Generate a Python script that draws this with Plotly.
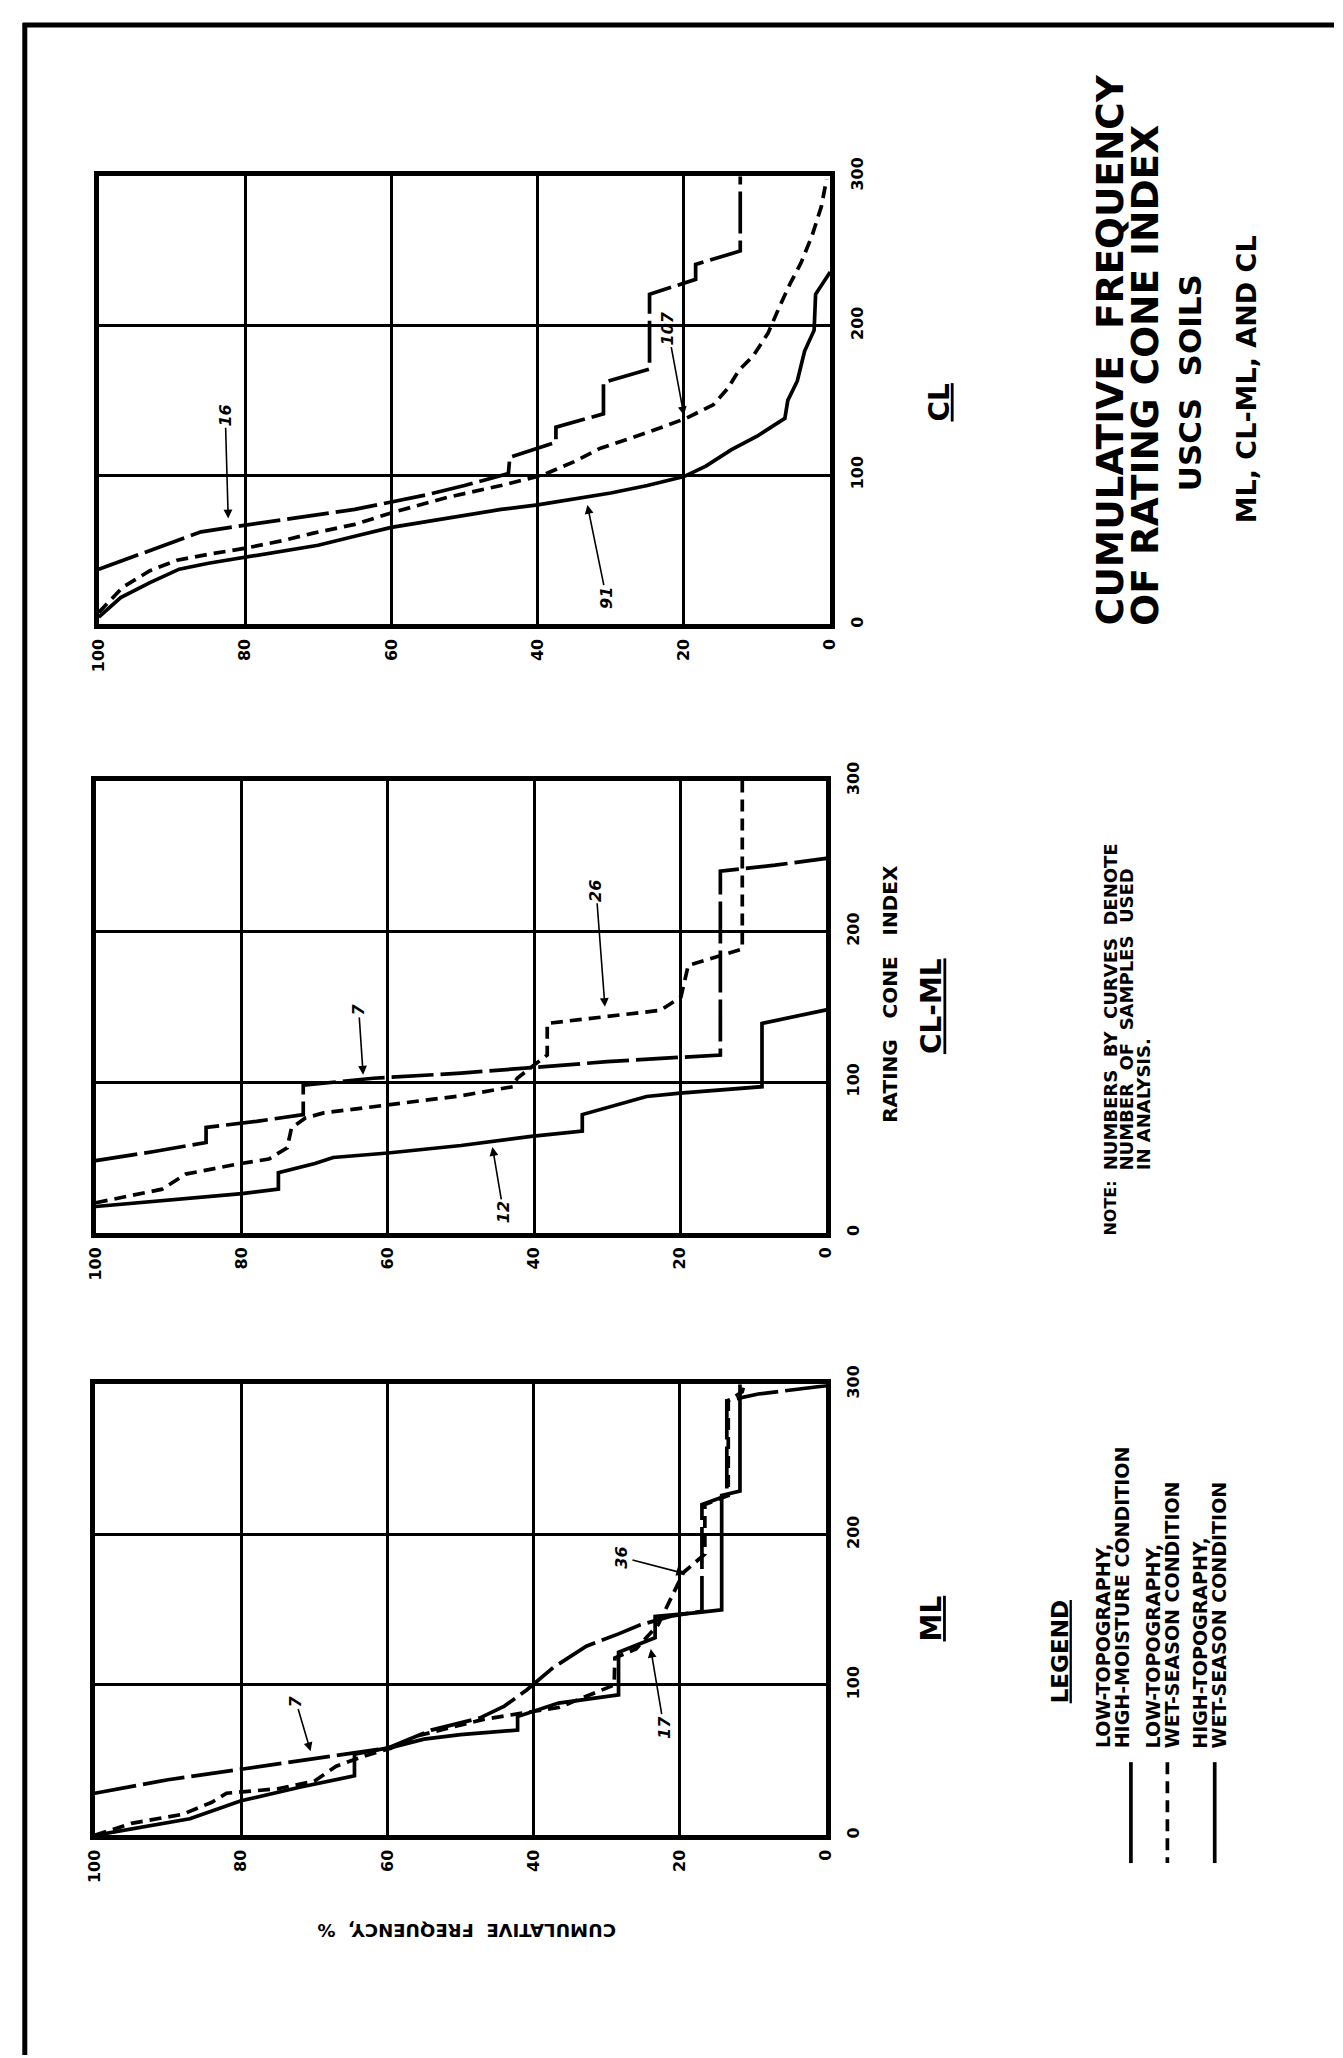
import plotly.graph_objects as go

W, H = 1343, 2058
FONT = "DejaVu Sans"

# ---------------- data (cumulative frequency %, rating cone index) ----------------
freq_ticks = [0, 20, 40, 60, 80, 100]
freq_ticktext = ["0", "20", "40", "60", "80", "100"]
rci_ticks = [0, 100, 200, 300]
rci_ticktext = ["0", "100", "200", "300"]

# CL panel
cl_hm_freq = [100, 97, 93, 89, 85, 80, 75, 70, 65, 60, 55, 50, 45, 40, 35, 30, 25, 20, 17, 13.5, 10, 8, 6.2, 5.8, 4.5, 3.5, 2.2, 2, 1, 0]
cl_hm_rci = [5, 18, 28, 37, 41, 45, 49, 53, 59, 65, 69, 73, 77, 80, 84, 88, 93, 99, 106, 117, 126, 132, 138, 150, 163, 183, 197, 221, 228, 236]
cl_ws_freq = [100, 96.7, 93, 89.3, 85, 80, 75, 70.8, 65, 59.8, 52.4, 45, 39.3, 35, 31.4, 24.7, 19.7, 16, 14, 12.5, 10.5, 8.5, 7, 5.5, 4, 2.5, 1.2, 0.5]
cl_ws_rci = [8, 25, 36, 43, 47, 51, 56, 61, 67, 75, 85, 93, 100, 109, 118, 129, 138, 147, 158, 170, 180, 195, 212, 228, 242, 260, 280, 298]
cl_ht_freq = [100, 95, 90, 86, 82, 75, 70, 65, 60, 55, 50, 44, 43.8, 37.5, 37.5, 31, 31, 24.7, 24.7, 18.4, 18.4, 12.3, 12.3]
cl_ht_rci = [37, 46, 55, 62, 65, 70, 73, 77, 82, 87, 93, 101, 112, 122, 132, 141, 162, 171, 221, 231, 241, 250, 300]

# CL-ML panel
clml_hm_freq = [100, 90, 80, 75, 75, 70, 67.5, 60, 50, 40.4, 33.4, 33.4, 28, 24.6, 20, 15, 8.8, 8.8, 0]
clml_hm_rci = [17.5, 22, 26, 29, 40, 46, 50, 53, 58, 64, 67.5, 78.5, 86, 90.5, 92.7, 94.5, 97, 139, 148]
clml_ws_freq = [100, 90.9, 87.7, 80.8, 76.3, 73.8, 73.2, 71.3, 68.8, 59.8, 50, 42.9, 42.3, 40, 38.2, 38.2, 30, 22.7, 19.9, 18.9, 11.5, 11.5]
clml_ws_rci = [20, 29, 39, 45.5, 49, 56.5, 69.7, 76.3, 79.6, 85, 91, 97, 102.6, 111.4, 118, 139, 143.5, 147.7, 156.5, 177.4, 188.4, 300]
clml_ht_freq = [100, 92, 84.9, 84.9, 78, 71.6, 71.6, 62, 50, 40, 30, 20, 14.5, 14.5, 7, 0]
clml_ht_rci = [48, 54, 60, 70, 74, 78.5, 98, 102.6, 106, 110, 113.6, 116.5, 118, 240, 244, 248.5]

# ML panel
ml_hm_freq = [100, 87, 80, 72, 64.5, 64.5, 59, 55, 50, 45, 42.2, 42.2, 36.6, 28.4, 28.4, 23.4, 23.4, 18, 14.3, 14.3, 11.8, 11.8]
ml_hm_rci = [0, 11, 23, 32, 39.6, 54, 59, 64, 67, 69, 70, 79, 88, 93.5, 121.7, 131.5, 145.6, 148, 150, 226, 229, 300]
ml_ws_freq = [100, 95, 88, 84, 82, 75, 70, 67, 63, 59.5, 56, 52, 47, 42, 36.6, 29, 28.9, 26, 23, 21, 19.5, 16.6, 16.6, 13.4, 13.4, 11.5, 11.2]
ml_ws_rci = [0, 8, 14, 22, 28, 31, 36, 46, 53, 58, 66, 71, 77, 81, 85, 100, 118, 124, 140, 160, 175, 187, 220, 226, 289, 295, 300]
ml_ht_freq = [100, 90, 80, 70, 60, 54, 47.4, 44, 41, 37.3, 32.8, 28.4, 25.4, 21, 17, 17, 13.6, 13.6, 9.3, 0]
ml_ht_rci = [28, 37, 44, 51, 58, 70, 78, 86, 96.5, 111.7, 125.8, 134, 140, 146, 149, 220, 226, 289, 293.5, 299]

# sample-count labels: text, label position, arrow tip (freq, rci)
cl_lab_text = ["16", "107", "91"]
cl_lab_freq = [82.7, 22.2, 30.6]
cl_lab_rci = [140, 198, 18]
cl_tip_freq = [82.3, 20.0, 33.2]
cl_tip_rci = [71, 140, 80]

clml_lab_text = ["7", "26", "12"]
clml_lab_freq = [64.0, 31.5, 44.2]
clml_lab_rci = [148, 227, 14]
clml_tip_freq = [63.4, 30.3, 45.7]
clml_tip_rci = [105, 150, 57]

ml_lab_text = ["7", "36", "17"]
ml_lab_freq = [72.5, 28.0, 22.2]
ml_lab_rci = [89, 185, 72]
ml_tip_freq = [70.5, 19.3, 24.0]
ml_tip_rci = [56, 174, 124]

legend_labels = [["LOW-TOPOGRAPHY,", "HIGH-MOISTURE CONDITION"],
                 ["LOW-TOPOGRAPHY,", "WET-SEASON CONDITION"],
                 ["HIGH-TOPOGRAPHY,", "WET-SEASON CONDITION"]]

# ---------------- styling ----------------
SOLID = "solid"
SHORT = "12px,7px"
LONG = "42px,7px"
LW = 3.7

panels = [
    dict(name="CL", box=(90, 832, 159, 612),
         series=[(cl_hm_freq, cl_hm_rci, SOLID), (cl_ws_freq, cl_ws_rci, SHORT), (cl_ht_freq, cl_ht_rci, LONG)],
         labels=(cl_lab_text, cl_lab_freq, cl_lab_rci, cl_tip_freq, cl_tip_rci), title_x=943, title_y=387),
    dict(name="CL-ML", box=(87, 828, 770, 1227),
         series=[(clml_hm_freq, clml_hm_rci, SOLID), (clml_ws_freq, clml_ws_rci, SHORT), (clml_ht_freq, clml_ht_rci, LONG)],
         labels=(clml_lab_text, clml_lab_freq, clml_lab_rci, clml_tip_freq, clml_tip_rci), title_x=935, title_y=998),
    dict(name="ML", box=(86, 828, 1380, 1836),
         series=[(ml_hm_freq, ml_hm_rci, SOLID), (ml_ws_freq, ml_ws_rci, SHORT), (ml_ht_freq, ml_ht_rci, LONG)],
         labels=(ml_lab_text, ml_lab_freq, ml_lab_rci, ml_tip_freq, ml_tip_rci), title_x=935, title_y=1617),
]

fig = go.Figure()
annotations = []
shapes = []


def txt(x, y, text, size, angle=-90, xanchor="center", yanchor="middle", italic=False):
    return dict(xref="paper", yref="paper", x=x / W, y=1 - y / H, text=text, textangle=angle,
                showarrow=False, xanchor=xanchor, yanchor=yanchor,
                font=dict(family=FONT, size=size, color="black", weight="bold",
                          style="italic" if italic else "normal"))


layout_axes = {}
for i, p in enumerate(panels, start=1):
    xs = "" if i == 1 else str(i)
    x0, x1, y0, y1 = p["box"]
    for fx, ry, dash in p["series"]:
        fig.add_trace(go.Scatter(x=fx, y=ry, mode="lines", xaxis="x" + xs, yaxis="y" + xs,
                                 line=dict(color="black", width=LW, dash=dash), showlegend=False,
                                 hoverinfo="skip"))
    common = dict(showgrid=True, gridcolor="black", gridwidth=2.8, showline=True, linecolor="black",
                  linewidth=4.8, mirror=True, zeroline=False, ticks="", tickangle=-90,
                  tickfont=dict(family=FONT, size=16, color="black", weight="bold"))
    layout_axes["xaxis" + xs] = dict(common, domain=[x0 / W, x1 / W], range=[100, 0],
                                     tickvals=freq_ticks, ticktext=freq_ticktext,
                                     anchor="y" + xs, ticklabelstandoff=3)
    layout_axes["yaxis" + xs] = dict(common, domain=[1 - y1 / H, 1 - y0 / H], range=[0, 300],
                                     tickvals=rci_ticks, ticktext=rci_ticktext, side="right",
                                     anchor="x" + xs, ticklabelstandoff=9)
    lt, lf, lr, tf, tr = p["labels"]
    for t, a, b, c, d in zip(lt, lf, lr, tf, tr):
        annotations.append(dict(xref="x" + xs, yref="y" + xs, x=c, y=d, axref="x" + xs, ayref="y" + xs,
                                ax=a, ay=b, text=t, textangle=-90, showarrow=True, arrowhead=2,
                                arrowsize=1.1, arrowwidth=1.6, arrowcolor="black", standoff=0,
                                font=dict(family=FONT, size=16, color="black", weight="bold",
                                          style="italic")))
    annotations.append(txt(p["title_x"], p["title_y"], "<u>" + p["name"] + "</u>", 28))

NB = "\u00a0"
annotations += [
    txt(1116, 615, "CUMULATIVE" + NB * 2 + "FREQUENCY", 37.5, yanchor="bottom"),
    txt(1151, 615, "OF RATING CONE INDEX", 37.5, yanchor="bottom"),
    txt(1197, 368, "USCS" + NB * 2 + "SOILS", 31),
    txt(1254, 364, "ML, CL-ML, AND CL", 27),
    txt(1116, 1232, "NOTE:", 16, yanchor="bottom"),
    txt(1116, 1166, ("NUMBERS BY CURVES DENOTE").replace(" ", NB * 2), 18, yanchor="bottom"),
    txt(1133, 1166, ("NUMBER OF SAMPLES USED").replace(" ", NB * 2), 18, yanchor="bottom"),
    txt(1150, 1166, "IN ANALYSIS.", 18, yanchor="bottom"),
    txt(893, 985, ("RATING CONE INDEX").replace(" ", NB * 3), 20),
    txt(463, 1932, ("CUMULATIVE FREQUENCY, %").replace(" ", NB * 2), 18, angle=180),
    txt(1065, 1650, "<u>LEGEND</u>", 23),
]

leg_text_x = [(1108, 1128), (1159, 1178), (1207, 1226)]
leg_line_x = [1137, 1174, 1222]
leg_dash = [SOLID, SHORT, SOLID]
for (xa, xb), (l1, l2), lx, dsh in zip(leg_text_x, legend_labels, leg_line_x, leg_dash):
    annotations.append(txt(xa, 1750, l1, 19, yanchor="bottom"))
    annotations.append(txt(xb, 1750, l2.replace(" ", NB), 19, yanchor="bottom"))
    shapes.append(dict(type="line", xref="paper", yref="paper", x0=lx / W, x1=lx / W,
                       y0=1 - 1762 / H, y1=1 - 1864 / H, line=dict(color="black", width=LW, dash=dsh)))

# page border (top and left)
shapes.append(dict(type="line", xref="paper", yref="paper", x0=13 / W, x1=1, y0=1 - 6 / H, y1=1 - 6 / H,
                   line=dict(color="black", width=5)))
shapes.append(dict(type="line", xref="paper", yref="paper", x0=15 / W, x1=15 / W, y0=1 - 4 / H, y1=0,
                   line=dict(color="black", width=5)))

fig.update_layout(width=W, height=H, margin=dict(l=0, r=0, t=0, b=0), paper_bgcolor="white",
                  plot_bgcolor="white", showlegend=False, annotations=annotations, shapes=shapes,
                  **layout_axes)

fig.write_html("out.html")
